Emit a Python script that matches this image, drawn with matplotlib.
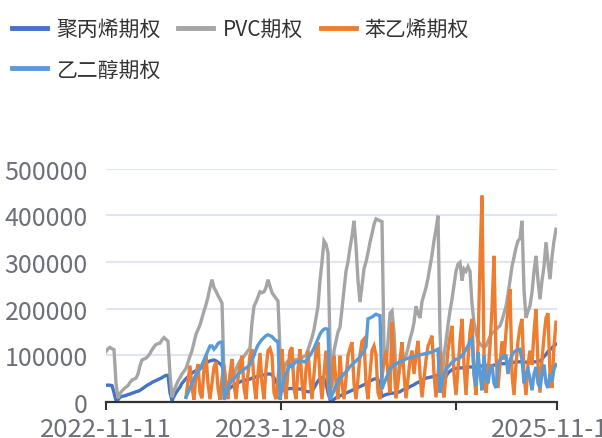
import matplotlib
matplotlib.use("Agg")
import matplotlib.pyplot as plt
import numpy as np

plt.rcParams['font.family'] = ['Noto Sans CJK SC', 'DejaVu Sans']

# 持仓量 (千手), 每个点为一个日期类目, nan 表示该合约尚未上市
nan = np.nan
pp = [36, 36, 36, 35, 20, 3, 5, 10, 12, 13, 14, 16, 17, 19, 20, 22, 23, 25, 28, 31,
      34, 37, 39, 42, 44, 46, 48, 50, 52, 55, 57, 57, 20, 3, 12, 20, 26, 32, 40, 45,
      50, 54, 58, 62, 65, 67, 69, 71, 75, 79, 83, 86, 88, 89, 90, 88, 85, 82, 78, 60,
      40, 30, 30, 33, 36, 38, 41, 43, 45, 46, 47, 48, 49, 51, 52, 54, 55, 56, 57, 58,
      59, 60, 60, 58, 52, 44, 35, 28, 24, 25, 27, 28, 29, 29, 28, 28, 28, 28, 27, 25,
      23, 22, 22, 24, 30, 38, 45, 50, 52, 50, 40, 20, 5, 3, 6, 9, 11, 13, 15, 17,
      19, 21, 23, 25, 27, 29, 31, 33, 35, 37, 39, 42, 45, 47, 49, 50, 48, 30, 12, 14,
      16, 17, 18, 19, 19, 20, 21, 22, 25, 27, 28, 30, 33, 35, 37, 40, 42, 44, 47, 49,
      51, 52, 53, 54, 55, 56, 57, 50, 22, 40, 55, 62, 66, 69, 71, 72, 72, 73, 73, 74,
      74, 75, 75, 75, 76, 76, 76, 77, 77, 77, 78, 78, 78, 78, 79, 79, 80, 81, 82, 82,
      83, 84, 84, 85, 85, 86, 86, 86, 87, 86, 85, 86, 86, 87, 86, 86, 87, 88, 92, 97,
      102, 108, 112, 116, 120, 124]

pvc = [108, 114, 117, 114, 112, 40, 8, 18, 24, 28, 32, 35, 42, 47, 49, 51, 60, 78, 90, 92,
       94, 98, 104, 112, 118, 123, 125, 126, 133, 138, 134, 130, 60, 10, 25, 35, 45, 52, 60, 66,
       72, 85, 98, 110, 128, 145, 155, 165, 180, 195, 208, 225, 245, 262, 245, 237, 228, 220, 212, 60,
       30, 38, 47, 54, 60, 70, 80, 88, 92, 98, 104, 110, 116, 170, 205, 214, 225, 236, 234, 236,
       245, 262, 248, 234, 228, 222, 216, 110, 40, 70, 84, 88, 88, 89, 90, 91, 91, 92, 95, 98,
       100, 112, 125, 138, 155, 180, 205, 260, 300, 345, 338, 320, 120, 30, 110, 130, 150, 160, 200, 240,
       280, 300, 330, 355, 388, 335, 260, 214, 250, 285, 300, 320, 342, 360, 380, 392, 390, 388, 386, 110,
       80, 130, 190, 195, 150, 60, 50, 75, 85, 95, 100, 115, 135, 150, 170, 205, 190, 180, 215, 230,
       245, 265, 290, 315, 345, 370, 399, 150, 40, 100, 130, 165, 195, 220, 250, 280, 295, 299, 260, 285,
       280, 290, 280, 210, 170, 150, 130, 125, 120, 118, 120, 130, 140, 148, 150, 155, 160, 163, 175, 190,
       205, 230, 260, 290, 310, 330, 345, 350, 388, 240, 180, 195, 206, 235, 280, 313, 260, 220, 260, 290,
       342, 300, 263, 310, 345, 370]

ps = [nan] * 40 + [
      10, 45, 78, 30, 5, 60, 81, 20, 8, 70,
      99, 40, 6, 40, 75, 86, 30, 5, 50, 80,
      40, 6, 60, 92, 40, 6, 50, 80, 99, 30,
      6, 60, 100, 113, 40, 6, 60, 105, 40, 6,
      70, 110, 115, 100, 20, 6, 50, 90, 113, 40,
      6, 70, 110, 117, 30, 6, 70, 113, 40, 6,
      70, 110, 50, 6, 60, 110, 128, 50, 6, 60,
      110, 40, 6, 60, 99, 40, 6, 99, 40, 6,
      50, 100, 115, 128, 40, 6, 50, 100, 130, 135,
      40, 6, 60, 110, 120, 100, 20, 6, 50, 90,
      110, 60, 20, 171, 80, 8, 40, 90, 128, 60,
      8, 50, 90, 110, 60, 100, 131, 60, 10, 50,
      90, 120, 130, 142, 60, 10, 60, 110, 40, 10,
      60, 110, 140, 163, 60, 15, 70, 130, 178, 80,
      15, 90, 150, 178, 60, 15, 120, 300, 442, 100,
      20, 60, 120, 200, 313, 100, 30, 80, 130, 90,
      150, 200, 242, 60, 15, 80, 130, 160, 178, 60,
      15, 80, 110, 80, 150, 199, 80, 20, 90, 140,
      180, 190, 60, 30, 120, 171]

eg = [nan] * 40 + [
      10, 20, 30, 40, 50, 58, 65, 71, 80, 90, 100, 110, 120, 120, 113, 118, 125, 128, 128, 5,
      15, 28, 40, 47, 50, 55, 60, 63, 67, 70, 73, 76, 80, 90, 100, 112, 122, 128, 134, 138,
      142, 144, 142, 140, 135, 131, 130, 5, 30, 50, 60, 70, 80, 75, 82, 86, 86, 87, 88, 86,
      88, 95, 100, 107, 115, 125, 135, 145, 152, 156, 157, 155, 5, 15, 25, 35, 45, 50, 55, 60,
      65, 70, 76, 80, 84, 88, 92, 97, 103, 110, 118, 178, 180, 182, 185, 188, 186, 185, 28, 40,
      50, 60, 71, 75, 80, 82, 84, 86, 88, 90, 92, 94, 95, 96, 97, 99, 100, 101, 102, 103,
      104, 105, 106, 107, 109, 111, 113, 20, 45, 60, 70, 75, 80, 85, 88, 92, 92, 95, 100, 105,
      113, 120, 130, 135, 60, 35, 107, 60, 25, 100, 50, 40, 70, 80, 40, 30, 80, 90, 95, 99,
      99, 60, 90, 100, 107, 110, 112, 113, 90, 40, 60, 70, 50, 25, 60, 75, 40, 30, 60, 80,
      40, 30, 60, 45, 70, 80]

names = ['聚丙烯期权', 'PVC期权', '苯乙烯期权', '乙二醇期权']
colors = ['#4472C4', '#A5A5A5', '#ED7D31', '#5B9BD5']
tick_labels = ['2022-11-11', '2023-12-08', '', '2025-11-14']

W, H = 602, 439
fig = plt.figure(figsize=(W / 100, H / 100), dpi=100)
ax = fig.add_axes([106 / W, 36 / H, 451 / W, 233.5 / H])

x = np.arange(len(pp))
lines = []
for vals, name, c in zip([pp, pvc, ps, eg], names, colors):
    ln, = ax.plot(x, np.array(vals, dtype=float) * 1000, color=c, lw=2.4,
                  label=name, solid_joinstyle='miter')
    lines.append(ln)

ax.set_xlim(0, 225.5)
ax.set_ylim(0, 500000)
ax.set_yticks([0, 100000, 200000, 300000, 400000, 500000])
ax.set_yticklabels(['0', '100000', '200000', '300000', '400000', '500000'])
ax.grid(axis='y', color='#E0E6F1', lw=1.5)
ax.set_axisbelow(True)
for s in ['top', 'right', 'left']:
    ax.spines[s].set_visible(False)
ax.spines['bottom'].set_color('#333333')
ax.spines['bottom'].set_linewidth(1.6)
ax.spines['bottom'].set_zorder(5)
ax.set_xticks([0, 87.5, 175, 225.5])
ax.set_xticklabels(tick_labels)
ax.tick_params(axis='y', length=0, pad=13, labelsize=18, labelcolor='#6E7079')
ax.tick_params(axis='x', length=6, width=1.5, color='#333333', pad=4,
               labelsize=18.5, labelcolor='#6E7079')

order = [0, 3, 1, 2]
fig.legend([lines[i] for i in order], [names[i] for i in order], ncol=3,
           loc='upper left', bbox_to_anchor=(12 / W, 1 - 19 / H), frameon=False,
           fontsize=15, handlelength=1.68, handletextpad=0.43, columnspacing=0.87,
           borderpad=0, borderaxespad=0, labelspacing=0.9, labelcolor='#333333')
for h in fig.legends[0].legend_handles:
    h.set_linewidth(3.5)

fig.savefig('out.png', dpi=100)
